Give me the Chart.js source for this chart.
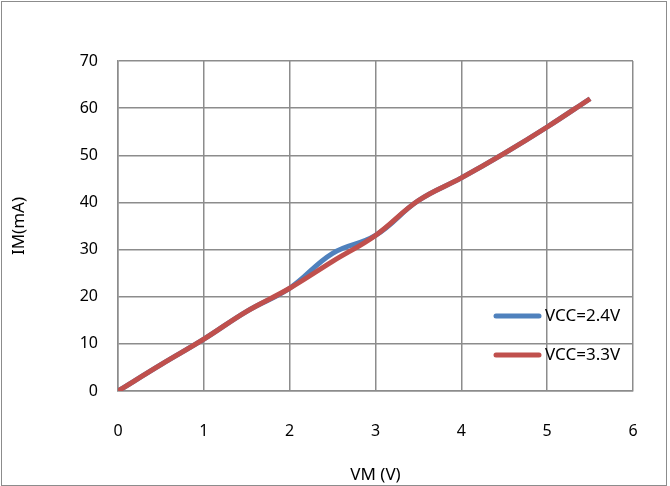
<!DOCTYPE html>
<html>
<head>
<meta charset="utf-8">
<script src="https://cdn.jsdelivr.net/npm/chart.js@4/dist/chart.umd.min.js"></script>
<style>
  html, body { margin: 0; padding: 0; background: #fff; }
  #wrap { width: 670px; height: 486px; }
</style>
</head>
<body>
<div id="wrap"><canvas id="im-chart" width="670" height="486"></canvas></div>
<script>
// values
var vm = [0, 0.5, 1, 1.5, 2, 2.5, 3, 3.5, 4, 4.5, 5, 5.5];
var im24 = [0, 5.6, 11, 16.9, 21.8, 29.2, 33, 40.4, 45.2, 50.4, 56, 62];
var im33 = [0, 5.6, 11, 16.9, 21.8, 27.5, 33, 40.4, 45.2, 50.4, 56, 62];
var seriesNames = ['VCC=2.4V', 'VCC=3.3V'];
var seriesColors = ['#4F81BD', '#C0504D'];
var xTicks = [0, 1, 2, 3, 4, 5, 6];
var yTicks = [0, 10, 20, 30, 40, 50, 60, 70];

var FONT = '"Noto Sans", "Open Sans", sans-serif';

function toPoints(xs, ys) {
  return xs.map(function (x, i) { return {x: x, y: ys[i]}; });
}

// frame around the whole chart
var framePlugin = {
  id: 'frame',
  beforeDraw: function (chart) {
    var c = chart.ctx;
    c.save();
    c.fillStyle = '#fff';
    c.fillRect(0, 0, chart.width, chart.height);
    c.strokeStyle = '#8c8c8c';
    c.lineWidth = 1;
    c.strokeRect(1.5, 1.5, chart.width - 5, chart.height - 2);
    c.restore();
  }
};

// legend drawn inside the plot, lower right
var insideLegend = {
  id: 'insideLegend',
  afterDraw: function (chart) {
    var c = chart.ctx;
    var a = chart.chartArea;
    c.save();
    c.font = '17px ' + FONT;
    c.textBaseline = 'middle';
    c.textAlign = 'left';
    chart.data.datasets.forEach(function (ds, i) {
      var y = a.bottom - 75 + i * 39;
      c.strokeStyle = ds.borderColor;
      c.lineWidth = 5;
      c.lineCap = 'round';
      c.beginPath();
      c.moveTo(a.right - 137, y);
      c.lineTo(a.right - 94, y);
      c.stroke();
      c.fillStyle = '#000';
      c.fillText(ds.label, a.right - 88, y);
    });
    c.restore();
  }
};

var ctx = document.getElementById('im-chart').getContext('2d');
new Chart(ctx, {
  type: 'line',
  data: {
    datasets: [{
      label: seriesNames[0],
      data: toPoints(vm, im24),
      borderColor: seriesColors[0],
      borderWidth: 5,
      pointRadius: 0,
      tension: 0.4,
      order: 1
    }, {
      label: seriesNames[1],
      data: toPoints(vm, im33),
      borderColor: seriesColors[1],
      borderWidth: 5,
      pointRadius: 0,
      tension: 0.4,
      order: 0
    }]
  },
  options: {
    responsive: false,
    animation: false,
    devicePixelRatio: 1,
    layout: {padding: {left: 0, top: 61, right: 37, bottom: 0}},
    plugins: {legend: {display: false}, tooltip: {enabled: false}},
    scales: {
      x: {
        type: 'linear',
        min: 0, max: 6,
        afterFit: function (s) { s.height = 95; },
        afterBuildTicks: function (s) { s.ticks = xTicks.map(function (v) { return {value: v}; }); },
        grid: {color: '#8c8c8c', lineWidth: 1.5, drawTicks: false},
        border: {color: '#8c8c8c', width: 1.5},
        ticks: {color: '#000', padding: 31, font: {size: 16, family: FONT}},
        title: {display: true, text: 'VM (V)', color: '#000', padding: {top: 4, bottom: 1}, font: {size: 17, family: FONT}}
      },
      y: {
        min: 0, max: 70,
        afterFit: function (s) { s.width = 118; },
        afterBuildTicks: function (s) { s.ticks = yTicks.map(function (v) { return {value: v}; }); },
        grid: {color: '#8c8c8c', lineWidth: 1.5, drawTicks: false},
        border: {color: '#8c8c8c', width: 1.5},
        ticks: {color: '#000', padding: 20, font: {size: 16, family: FONT}},
        title: {display: true, text: 'IM(mA)', color: '#000', padding: {top: 9, bottom: 4}, font: {size: 17, family: FONT}}
      }
    }
  },
  plugins: [framePlugin, insideLegend]
});
</script>
</body>
</html>
